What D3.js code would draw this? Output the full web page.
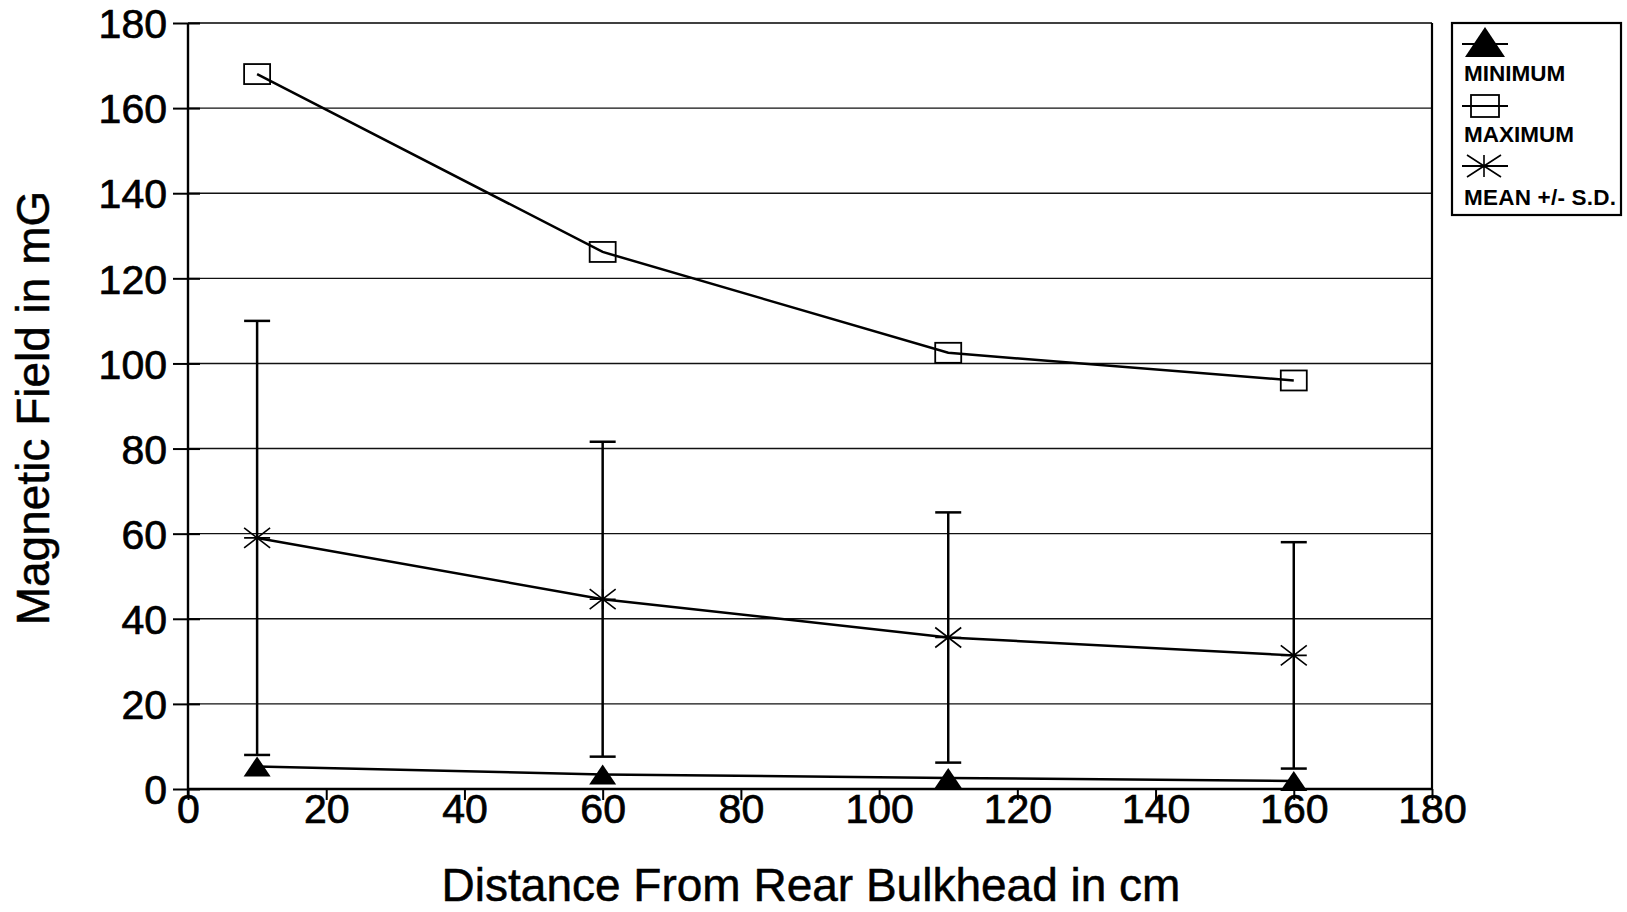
<!DOCTYPE html>
<html><head><meta charset="utf-8">
<script src="https://cdn.jsdelivr.net/npm/d3@7"></script>
<style>html,body{margin:0;padding:0;background:#fff;}</style>
</head><body>
<svg id="chart" width="1627" height="912"></svg>
<script>
// ---- data ----
const distances = [10, 60, 110, 160];
const minimum = [5.3, 3.4, 2.6, 1.9];
const maximum = [168, 126.2, 102.5, 96];
const mean = [59, 44.6, 35.6, 31.4];
const sd = [51, 37, 29.4, 26.6];
const xTicks = [0, 20, 40, 60, 80, 100, 120, 140, 160, 180];
const yTicks = [0, 20, 40, 60, 80, 100, 120, 140, 160, 180];
const legendLabels = ["MINIMUM", "MAXIMUM", "MEAN +/- S.D."];
const xTitle = "Distance From Rear Bulkhead in cm";
const yTitle = "Magnetic Field in mG";

const svg = d3.select("#chart");
const L = 188, R = 1432, T = 23, B = 789;
const x = d3.scaleLinear().domain([0, 180]).range([L, R]);
const y = d3.scaleLinear().domain([0, 180]).range([B, T]);
const font = "'Liberation Sans', Arial, Helvetica, sans-serif";

// grid lines
svg.append("g").selectAll("line").data(yTicks.filter(d => d > 0 && d < 180)).join("line")
  .attr("x1", L).attr("x2", R).attr("y1", d => y(d)).attr("y2", d => y(d))
  .attr("stroke", "#111").attr("stroke-width", 1.4);

// frame top/right
svg.append("line").attr("x1", L).attr("x2", R).attr("y1", T).attr("y2", T).attr("stroke", "#000").attr("stroke-width", 1.6);
svg.append("line").attr("x1", R).attr("x2", R).attr("y1", T).attr("y2", B).attr("stroke", "#000").attr("stroke-width", 2.2);

// y axis
const yAxis = svg.append("g").attr("transform", `translate(${L},0)`)
  .call(d3.axisLeft(y).tickValues(yTicks).tickSize(15).tickPadding(6).tickFormat(d3.format("d")));
yAxis.select(".domain").attr("d", `M0,${T}V${B + 6}`).attr("stroke-width", 2.4);
yAxis.selectAll(".tick line").attr("x2", -15).attr("x1", 12).attr("stroke-width", 2);
yAxis.selectAll(".tick text").attr("font-family", font).attr("font-size", 41).attr("fill", "#000")
  .attr("stroke", "#000").attr("stroke-width", 0.7).attr("dy", "0.36em");

// x axis
const xAxis = svg.append("g").attr("transform", `translate(0,${B})`)
  .call(d3.axisBottom(x).tickValues(xTicks).tickSize(11).tickPadding(4).tickFormat(d3.format("d")));
xAxis.select(".domain").attr("d", `M${L},0H${R}`).attr("stroke-width", 2.4);
xAxis.selectAll(".tick line").attr("stroke-width", 2);
xAxis.selectAll(".tick text").attr("font-family", font).attr("font-size", 41).attr("fill", "#000")
  .attr("stroke", "#000").attr("stroke-width", 0.7).attr("y", 34).attr("dy", 0);

// titles
svg.append("text").attr("x", (L + R) / 2 + 1).attr("y", 901).attr("text-anchor", "middle")
  .attr("font-family", font).attr("font-size", 46).attr("stroke", "#000").attr("stroke-width", 0.5).text(xTitle);
svg.append("text").attr("transform", `translate(49,${(T + B) / 2 + 2}) rotate(-90)`).attr("text-anchor", "middle")
  .attr("font-family", font).attr("font-size", 46).attr("stroke", "#000").attr("stroke-width", 0.5).text(yTitle);

const line = d3.line().x(d => x(d[0])).y(d => y(d[1]));
const lineStyle = s => s.attr("fill", "none").attr("stroke", "#000").attr("stroke-width", 2.5);

// error bars
const eb = svg.append("g");
distances.forEach((d, i) => {
  const lo = mean[i] - sd[i], hi = mean[i] + sd[i];
  eb.append("line").attr("x1", x(d)).attr("x2", x(d)).attr("y1", y(lo)).attr("y2", y(hi)).attr("stroke", "#000").attr("stroke-width", 2.5);
  [lo, hi].forEach(v => eb.append("line").attr("x1", x(d) - 13).attr("x2", x(d) + 13).attr("y1", y(v)).attr("y2", y(v)).attr("stroke", "#000").attr("stroke-width", 2.5));
});

// lines
svg.append("path").datum(distances.map((d, i) => [d, maximum[i]])).attr("d", line).call(lineStyle);
svg.append("path").datum(distances.map((d, i) => [d, mean[i]])).attr("d", line).call(lineStyle);
svg.append("path").datum(distances.map((d, i) => [d, minimum[i]])).attr("d", line).call(lineStyle);

// markers
function triangle(g, cx, cy, w, h) {
  g.append("path").attr("d", `M${cx},${cy - h / 2}L${cx + w / 2},${cy + h / 2}L${cx - w / 2},${cy + h / 2}Z`).attr("fill", "#000");
}
function square(g, cx, cy, w, h) {
  g.append("rect").attr("x", cx - w / 2).attr("y", cy - h / 2).attr("width", w).attr("height", h)
    .attr("fill", "none").attr("stroke", "#000").attr("stroke-width", 1.8);
}
function star(g, cx, cy, w, h) {
  const p = `M${cx - w / 2},${cy}H${cx + w / 2}M${cx},${cy - h / 2}V${cy + h / 2}M${cx - w / 2},${cy - h / 2}L${cx + w / 2},${cy + h / 2}M${cx - w / 2},${cy + h / 2}L${cx + w / 2},${cy - h / 2}`;
  g.append("path").attr("d", p).attr("stroke", "#000").attr("stroke-width", 1.6).attr("fill", "none");
}
const mk = svg.append("g");
distances.forEach((d, i) => {
  triangle(mk, x(d), y(minimum[i]), 27, 20);
  square(mk, x(d), y(maximum[i]), 26, 20);
  star(mk, x(d), y(mean[i]), 26, 20);
});

// legend
const lg = svg.append("g");
lg.append("rect").attr("x", 1452).attr("y", 23).attr("width", 1621 - 1452).attr("height", 215 - 23)
  .attr("fill", "#fff").attr("stroke", "#000").attr("stroke-width", 2.2);
const rows = [44, 106, 166];
const textY = [81, 142, 205];
rows.forEach((ry, i) => {
  lg.append("line").attr("x1", 1462).attr("x2", 1508).attr("y1", ry).attr("y2", ry).attr("stroke", "#000").attr("stroke-width", 2.2);
  if (i === 0) triangle(lg, 1485, ry - 2, 40, 30);
  if (i === 1) square(lg, 1485, ry, 28, 22);
  if (i === 2) star(lg, 1484, ry, 34, 22);
  lg.append("text").attr("x", 1464).attr("y", textY[i]).attr("font-family", font).attr("font-weight", "bold")
    .attr("font-size", 22.5).attr("textLength", i === 2 ? 152 : null).text(legendLabels[i]);
});
</script>
</body></html>
